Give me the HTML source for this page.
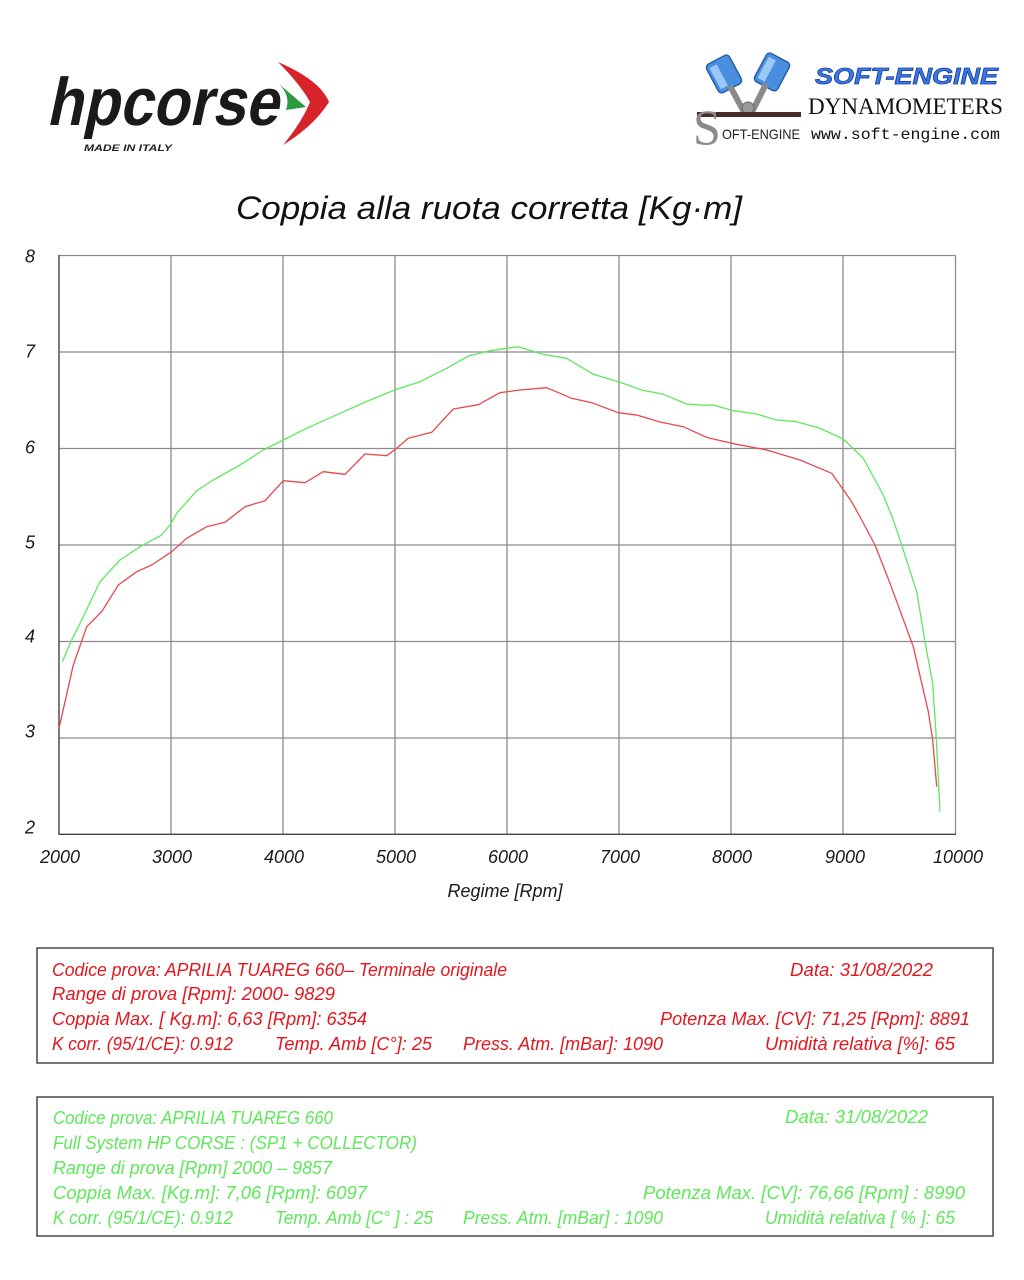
<!DOCTYPE html>
<html><head><meta charset="utf-8"><style>
html,body{margin:0;padding:0;background:#fff;}
svg{display:block;}
.ax{font-family:"Liberation Sans",sans-serif;font-style:italic;font-size:18px;fill:#1a1a1a;}
.info{font-family:"Liberation Sans Narrow","Liberation Sans",sans-serif;font-style:italic;font-size:18px;}
</style></head><body>
<svg width="1024" height="1280" viewBox="0 0 1024 1280" xmlns="http://www.w3.org/2000/svg">
<rect width="1024" height="1280" fill="#fff"/>

<!-- hpcorse logo -->
<g>
  <g transform="translate(46,125) skewX(-12) scale(1,1.25)">
    <text x="0" y="0" font-family="Liberation Sans, sans-serif" font-weight="bold" font-size="54" textLength="232" lengthAdjust="spacingAndGlyphs" fill="#1a1a1a">hpcorse</text>
  </g>
  <text x="84" y="151" font-family="Liberation Sans, sans-serif" font-weight="bold" font-style="italic" font-size="9" textLength="88" lengthAdjust="spacingAndGlyphs" fill="#222">MADE IN ITALY</text>
  <path d="M278,62 Q320,80 329,102 Q314,126 283,145 Q302,122 310,102 Q300,84 278,62 Z" fill="#d9232b"/>
  <path d="M279,84 L306,107 L286,110 Q291,96 279,84 Z" fill="#2c9b3f"/>
</g>

<!-- soft-engine logo -->
<g>
  <g transform="rotate(-28 724 74)">
    <rect x="711" y="58" width="26" height="32" rx="4" fill="#4a8ee0" stroke="#2a5fa8" stroke-width="1.5"/>
    <rect x="714" y="62" width="8" height="24" fill="#9cc8f5"/>
  </g>
  <g transform="rotate(28 772 72)">
    <rect x="759" y="56" width="26" height="32" rx="4" fill="#4a8ee0" stroke="#2a5fa8" stroke-width="1.5"/>
    <rect x="762" y="60" width="8" height="24" fill="#9cc8f5"/>
  </g>
  <path d="M730,86 L744,112 L752,112 L766,84" fill="none" stroke="#8a8a8a" stroke-width="6"/>
  <circle cx="748" cy="108" r="6" fill="#999" stroke="#666"/>
  <rect x="697" y="112" width="104" height="5" fill="#4a2a2a"/>
  <text x="693" y="144" font-family="Liberation Serif, serif" font-size="50" fill="#8a8a8a">S</text>
  <text x="722" y="139" font-family="Liberation Sans Narrow, Liberation Sans, sans-serif" font-size="14" textLength="78" lengthAdjust="spacingAndGlyphs" fill="#222">OFT-ENGINE</text>
  <text x="815" y="84" font-family="Liberation Sans, sans-serif" font-weight="bold" font-style="italic" font-size="23" textLength="183" lengthAdjust="spacingAndGlyphs" fill="#3a78e8" stroke="#1a3f9a" stroke-width="0.8">SOFT-ENGINE</text>
  <text x="808" y="114" font-family="Liberation Serif, serif" font-size="23" textLength="195" lengthAdjust="spacingAndGlyphs" fill="#111">DYNAMOMETERS</text>
  <text x="811" y="139" font-family="Liberation Mono, monospace" font-size="16" textLength="189" lengthAdjust="spacingAndGlyphs" fill="#111">www.soft-engine.com</text>
</g>

<!-- title -->
<text x="236" y="219" font-family="Liberation Sans, sans-serif" font-style="italic" font-size="32" textLength="506" lengthAdjust="spacingAndGlyphs" fill="#111">Coppia alla ruota corretta [Kg·m]</text>

<!-- grid -->
<g stroke="#8c8c8c" stroke-width="1.3" fill="none">
  <line x1="171" y1="255.5" x2="171" y2="834.3"/>
  <line x1="283" y1="255.5" x2="283" y2="834.3"/>
  <line x1="395" y1="255.5" x2="395" y2="834.3"/>
  <line x1="507" y1="255.5" x2="507" y2="834.3"/>
  <line x1="619" y1="255.5" x2="619" y2="834.3"/>
  <line x1="731" y1="255.5" x2="731" y2="834.3"/>
  <line x1="843" y1="255.5" x2="843" y2="834.3"/>
  <line x1="955.5" y1="255.5" x2="955.5" y2="834.3"/>
  <line x1="59" y1="255.5" x2="955.5" y2="255.5"/>
  <line x1="59" y1="352" x2="955.5" y2="352"/>
  <line x1="59" y1="448.5" x2="955.5" y2="448.5"/>
  <line x1="59" y1="545" x2="955.5" y2="545"/>
  <line x1="59" y1="641.5" x2="955.5" y2="641.5"/>
  <line x1="59" y1="738" x2="955.5" y2="738"/>
</g>
<g stroke="#444" stroke-width="1.4" fill="none">
  <line x1="59" y1="255" x2="59" y2="834.5"/>
  <line x1="58.5" y1="834.3" x2="956" y2="834.3"/>
</g>

<!-- y labels -->
<g class="ax" text-anchor="middle">
  <text x="30" y="262.5">8</text>
  <text x="30" y="357.5">7</text>
  <text x="30" y="453.5">6</text>
  <text x="30" y="548.5">5</text>
  <text x="30" y="642.5">4</text>
  <text x="30" y="737.5">3</text>
  <text x="30" y="833.5">2</text>
</g>
<!-- x labels -->
<g class="ax" text-anchor="middle">
  <text x="60" y="863">2000</text>
  <text x="172" y="863">3000</text>
  <text x="284" y="863">4000</text>
  <text x="396" y="863">5000</text>
  <text x="508" y="863">6000</text>
  <text x="620" y="863">7000</text>
  <text x="732" y="863">8000</text>
  <text x="845" y="863">9000</text>
  <text x="958" y="863">10000</text>
  <text x="505" y="897">Regime [Rpm]</text>
</g>

<!-- green curve -->
<polyline fill="none" stroke="#5fe85f" stroke-width="1.3" stroke-linejoin="round" points="62.3,661.7 71.7,640 81.7,620 100,581.7 120,560 140,546.7 161.7,535 170,525 176.7,513.3 196.7,490.7 213.3,480 240,465 263.3,450 283.3,440 306.7,428.3 340,413.3 370,400 396,389.5 420,381.7 446.7,368.3 468.3,356 490,350.7 506.7,348.3 518.3,346.7 541.7,354 566.7,358.3 593.3,374.3 620,382.3 641.7,390 663.3,394.3 686.7,404 705,405.3 713.3,405 733.3,410.7 756.7,414 776.7,420 796.7,421.7 820,428.3 843.3,439 863.3,458.3 883.3,495 893.3,520 901.7,545 916.7,591.7 925,641.7 932.7,683.3 936,733.3 940,811.7"/>
<!-- red curve -->
<polyline fill="none" stroke="#e8484e" stroke-width="1.3" stroke-linejoin="round" points="59,728.3 73.3,665 86.7,626.7 101.7,611.7 118.3,585 136.7,571.7 151.7,565 171.7,551.7 186.7,538.3 206.7,526.7 225,522.3 245,506.7 265,500.7 283.3,480.7 305,482.7 323.3,471.7 345,474.3 365,454 386.7,455.7 396.7,448.3 408.3,438.3 431.7,432.3 440,423.3 453.3,409 478.3,404.7 500,392.7 520,390 546.7,387.7 571.7,398.3 591.7,402.7 618.3,412.7 636.7,415 660,422 683.3,426.7 705,436.7 710,438.3 731.7,443.3 766.7,450 800,460 831.7,473.3 851.7,501.7 861.7,520 875,545 890,583.3 913.3,646.7 928.3,711.7 932.7,740 936.7,786.7"/>

<!-- red info box -->
<rect x="37" y="948" width="956" height="115" fill="none" stroke="#3a3a3a" stroke-width="1.4"/>
<g class="info" fill="#e3161e">
  <text x="52" y="976" textLength="455" lengthAdjust="spacingAndGlyphs">Codice prova: APRILIA TUAREG 660– Terminale originale</text>
  <text x="790" y="976" textLength="143" lengthAdjust="spacingAndGlyphs">Data: 31/08/2022</text>
  <text x="52" y="1000" textLength="283" lengthAdjust="spacingAndGlyphs">Range di prova  [Rpm]: 2000- 9829</text>
  <text x="52" y="1025" textLength="315" lengthAdjust="spacingAndGlyphs">Coppia Max. [ Kg.m]:  6,63 [Rpm]: 6354</text>
  <text x="660" y="1025" textLength="310" lengthAdjust="spacingAndGlyphs">Potenza Max. [CV]:   71,25  [Rpm]:  8891</text>
  <text x="52" y="1050" textLength="181" lengthAdjust="spacingAndGlyphs">K corr. (95/1/CE): 0.912</text>
  <text x="275" y="1050" textLength="157" lengthAdjust="spacingAndGlyphs">Temp. Amb  [C°]: 25</text>
  <text x="463" y="1050" textLength="200" lengthAdjust="spacingAndGlyphs">Press. Atm.  [mBar]: 1090</text>
  <text x="765" y="1050" textLength="190" lengthAdjust="spacingAndGlyphs">Umidità relativa [%]: 65</text>
</g>

<!-- green info box -->
<rect x="37" y="1097" width="956" height="139" fill="none" stroke="#3a3a3a" stroke-width="1.4"/>
<g class="info" fill="#5ee85a">
  <text x="53" y="1124" textLength="280" lengthAdjust="spacingAndGlyphs">Codice prova: APRILIA TUAREG 660</text>
  <text x="785" y="1123" textLength="143" lengthAdjust="spacingAndGlyphs">Data: 31/08/2022</text>
  <text x="53" y="1149" textLength="364" lengthAdjust="spacingAndGlyphs">Full System HP CORSE :  (SP1  +  COLLECTOR)</text>
  <text x="53" y="1174" textLength="279" lengthAdjust="spacingAndGlyphs">Range di prova [Rpm] 2000 – 9857</text>
  <text x="53" y="1199" textLength="314" lengthAdjust="spacingAndGlyphs">Coppia Max.  [Kg.m]:  7,06  [Rpm]:  6097</text>
  <text x="643" y="1199" textLength="322" lengthAdjust="spacingAndGlyphs">Potenza Max. [CV]:  76,66   [Rpm] : 8990</text>
  <text x="53" y="1224" textLength="180" lengthAdjust="spacingAndGlyphs">K corr. (95/1/CE): 0.912</text>
  <text x="275" y="1224" textLength="158" lengthAdjust="spacingAndGlyphs">Temp. Amb [C° ] : 25</text>
  <text x="463" y="1224" textLength="200" lengthAdjust="spacingAndGlyphs">Press. Atm. [mBar] : 1090</text>
  <text x="765" y="1224" textLength="190" lengthAdjust="spacingAndGlyphs">Umidità relativa [ % ]: 65</text>
</g>
</svg>
</body></html>
